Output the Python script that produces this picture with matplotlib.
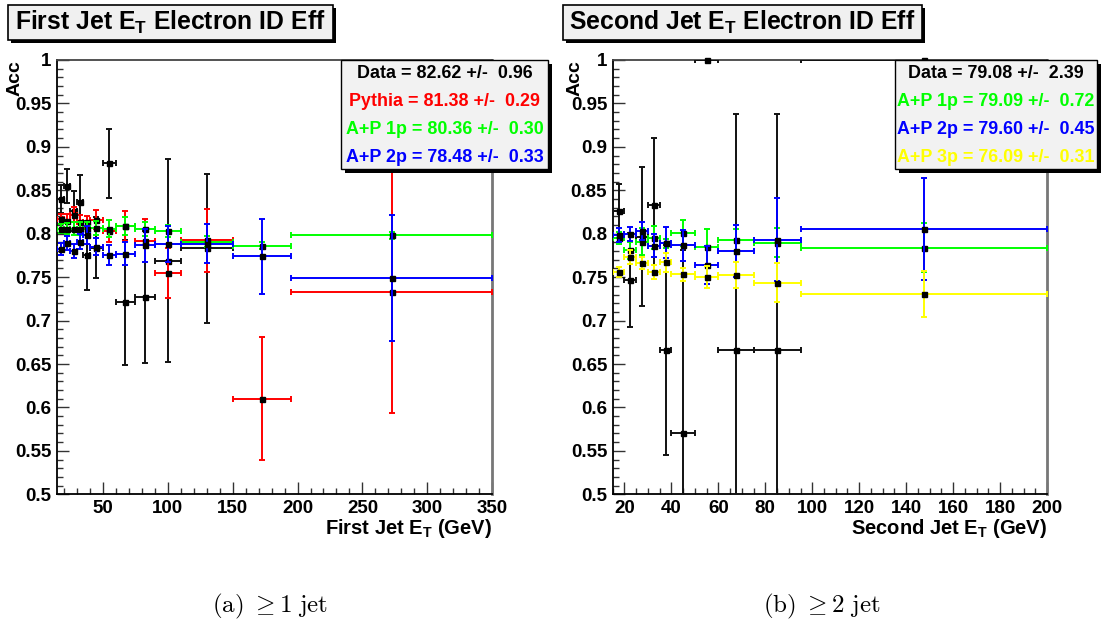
import matplotlib
matplotlib.use('Agg')
import matplotlib.pyplot as plt
from matplotlib.patches import Rectangle
from matplotlib.ticker import MultipleLocator, FuncFormatter
import numpy as np

plt.rcParams['font.family'] = ['Liberation Sans', 'DejaVu Sans']
plt.rcParams['font.weight'] = 'bold'
plt.rcParams['mathtext.fontset'] = 'custom'
plt.rcParams['mathtext.rm'] = 'Liberation Sans:bold'
plt.rcParams['mathtext.it'] = 'Liberation Sans:bold'
plt.rcParams['mathtext.bf'] = 'Liberation Sans:bold'

nan = np.nan

# ---------------- Left panel: First Jet ET ----------------
edges1 = [15, 20, 25, 30, 35, 40, 50, 60, 75, 90, 110, 150, 195, 350]
data1 = [0.840, 0.855, 0.826, 0.837, 0.775, 0.784, 0.881, 0.721, 0.727, 0.769, 0.783, nan, nan]
data1_err = [0.016, 0.020, 0.023, 0.031, 0.040, 0.035, 0.040, 0.072, 0.076, 0.117, 0.086, nan, nan]
pythia1 = [0.817, 0.815, 0.822, 0.814, 0.814, 0.816, 0.8035, 0.809, 0.792, 0.755, 0.7925, 0.610, 0.733]
pythia1_err = [0.006, 0.008, 0.009, 0.007, 0.006, 0.011, 0.0125, 0.017, 0.025, 0.029, 0.036, 0.071, 0.139]
ap1p1 = [0.806, 0.806, 0.806, 0.806, 0.806, 0.807, 0.806, 0.809, 0.805, 0.803, 0.791, 0.786, 0.798]
ap1p1_err = [0.005, 0.006, 0.007, 0.008, 0.008, 0.008, 0.010, 0.010, 0.008, 0.007, 0.006, 0.004, 0.004]
ap2p1 = [0.782, 0.789, 0.780, 0.791, 0.7985, 0.785, 0.775, 0.777, 0.787, 0.788, 0.7885, 0.774, 0.749]
ap2p1_err = [0.007, 0.008, 0.008, 0.009, 0.010, 0.010, 0.0115, 0.013, 0.019, 0.021, 0.0225, 0.043, 0.072]
legend1 = [("Data = 82.62 +/-  0.96", "black"),
           ("Pythia = 81.38 +/-  0.29", "#ff0000"),
           ("A+P 1p = 80.36 +/-  0.30", "#00ff00"),
           ("A+P 2p = 78.48 +/-  0.33", "#0000ff")]

# ---------------- Right panel: Second Jet ET ----------------
edges2 = [15, 20, 25, 30, 35, 40, 50, 60, 75, 95, 200]
data2 = [0.8265, 0.747, 0.7966, 0.8334, 0.666, 0.571, 1.0, 0.666, 0.666, 1.0]
data2_err = [0.031, 0.054, 0.080, 0.077, 0.121, 0.21, 0.0, 0.272, 0.272, 0.0]
ap1p2 = [0.7947, 0.781, 0.791, 0.7954, 0.789, 0.8008, 0.7847, 0.7924, 0.7897, 0.784]
ap1p2_err = [0.007, 0.010, 0.016, 0.013, 0.005, 0.015, 0.021, 0.0125, 0.017, 0.028]
ap2p2 = [0.7985, 0.7997, 0.803, 0.7862, 0.7897, 0.7867, 0.764, 0.7805, 0.7931, 0.8054]
ap2p2_err = [0.008, 0.008, 0.010, 0.013, 0.018, 0.018, 0.022, 0.030, 0.048, 0.059]
ap3p2 = [0.7556, 0.7736, 0.766, 0.7563, 0.767, 0.7536, 0.7502, 0.753, 0.7436, 0.731]
ap3p2_err = [0.006, 0.008, 0.007, 0.008, 0.011, 0.0075, 0.0125, 0.015, 0.0227, 0.0265]
legend2 = [("Data = 79.08 +/-  2.39", "black"),
           ("A+P 1p = 79.09 +/-  0.72", "#00ff00"),
           ("A+P 2p = 79.60 +/-  0.45", "#0000ff"),
           ("A+P 3p = 76.09 +/-  0.31", "#ffff00")]

W, H = 1102, 625
fig = plt.figure(figsize=(W / 100, H / 100), dpi=100)
fig.patch.set_facecolor('white')


def fx(x):
    return x / W


def fy(y):
    return 1 - y / H


def draw_series(ax, edges, vals, errs, color, z):
    e = np.array(edges, dtype=float)
    c = (e[:-1] + e[1:]) / 2
    hw = (e[1:] - e[:-1]) / 2
    v = np.array(vals, dtype=float)
    er = np.array(errs, dtype=float)
    m = ~np.isnan(v)
    ax.errorbar(c[m], v[m], xerr=hw[m], yerr=er[m], fmt='none', ecolor=color,
                elinewidth=1.4, capsize=2.2, capthick=1.4, zorder=z)
    ax.plot(c[m], v[m], 's', color='black', ms=3.6, zorder=z + 0.5, clip_on=False)


def setup_axes(ax, xlim, xmajor, xminor):
    ax.set_xlim(*xlim)
    ax.set_ylim(0.5, 1.0)
    ax.xaxis.set_major_locator(MultipleLocator(xmajor))
    ax.xaxis.set_minor_locator(MultipleLocator(xminor))
    ax.yaxis.set_major_locator(MultipleLocator(0.05))
    ax.yaxis.set_minor_locator(MultipleLocator(0.01))
    ax.yaxis.set_major_formatter(FuncFormatter(lambda v, p: '%g' % round(v, 3)))
    ax.xaxis.set_major_formatter(FuncFormatter(lambda v, p: '%g' % v))
    ax.tick_params(which='both', direction='in', top=False, right=False,
                   labelsize=13.5, pad=4, color='#333333')
    ax.tick_params(which='major', length=8.5, width=1.0)
    ax.tick_params(which='minor', length=4.5, width=1.0)
    for lab in ax.get_xticklabels() + ax.get_yticklabels():
        lab.set_fontweight('bold')
    for s in ['left', 'bottom']:
        ax.spines[s].set_linewidth(1.3)
        ax.spines[s].set_color('black')
    ax.spines['top'].set_linewidth(1.3)
    ax.spines['top'].set_color('#444444')
    ax.spines['right'].set_linewidth(2.0)
    ax.spines['right'].set_color('#777777')


def title_box(x0, x1, text):
    y0, y1 = 5, 40
    sh = Rectangle((fx(x0 + 3), fy(y1 + 3)), fx(x1 - x0), (y1 - y0) / H,
                   transform=fig.transFigure, facecolor='black', edgecolor='none', zorder=20)
    bx = Rectangle((fx(x0), fy(y1)), fx(x1 - x0), (y1 - y0) / H,
                   transform=fig.transFigure, facecolor='#f0f0f0', edgecolor='black',
                   linewidth=1.2, zorder=21)
    fig.add_artist(sh)
    fig.add_artist(bx)
    fig.text(fx((x0 + x1) / 2), fy(22), text, ha='center', va='center',
             fontsize=17.8, fontweight='bold', zorder=22)


def legend_box(x0, x1, entries):
    y0, y1 = 60, 169
    sh = Rectangle((fx(x0 + 4), fy(y1 + 4)), fx(x1 - x0), (y1 - y0) / H,
                   transform=fig.transFigure, facecolor='black', edgecolor='none', zorder=20)
    bx = Rectangle((fx(x0), fy(y1)), fx(x1 - x0), (y1 - y0) / H,
                   transform=fig.transFigure, facecolor='#f2f2f2', edgecolor='black',
                   linewidth=1.0, zorder=21)
    fig.add_artist(sh)
    fig.add_artist(bx)
    ys = [74, 102, 130, 157]
    for (t, c), y in zip(entries, ys):
        fig.text(fx((x0 + x1) / 2), fy(y), t, ha='center', va='center',
                 fontsize=12.9, fontweight='bold', color=c, zorder=22)


# Left axes
ax1 = fig.add_axes([fx(57.3), fy(494.3), fx(492.3 - 57.3), (494.3 - 60) / H])
draw_series(ax1, edges1, data1, data1_err, '#111111', 3)
draw_series(ax1, edges1, pythia1, pythia1_err, '#ff0000', 4)
draw_series(ax1, edges1, ap1p1, ap1p1_err, '#00ff00', 5)
draw_series(ax1, edges1, ap2p1, ap2p1_err, '#0000ff', 6)
setup_axes(ax1, (15, 350), 50, 10)

# Right axes
ax2 = fig.add_axes([fx(612.7), fy(494.3), fx(1047 - 612.7), (494.3 - 60) / H])
draw_series(ax2, edges2, data2, data2_err, '#111111', 3)
draw_series(ax2, edges2, ap1p2, ap1p2_err, '#00ff00', 4)
draw_series(ax2, edges2, ap2p2, ap2p2_err, '#0000ff', 5)
draw_series(ax2, edges2, ap3p2, ap3p2_err, '#ffff00', 6)
setup_axes(ax2, (15, 200), 20, 5)

# Titles
title_box(8, 333, r"First Jet E$_\mathrm{T}$ Electron ID Eff")
title_box(563, 922, r"Second Jet E$_\mathrm{T}$ Electron ID Eff")

# Stat boxes
legend_box(341, 548, legend1)
legend_box(895, 1097, legend2)

# Axis titles
fig.text(fx(492.3), fy(528), r"First Jet E$_\mathrm{T}$ (GeV)", ha='right', va='center',
         fontsize=14.5, fontweight='bold')
fig.text(fx(1047), fy(528), r"Second Jet E$_\mathrm{T}$ (GeV)", ha='right', va='center',
         fontsize=14.5, fontweight='bold')
fig.text(fx(15), fy(60), "Acc", rotation=90, ha='center', va='top',
         fontsize=14, fontweight='bold')
fig.text(fx(575), fy(60), "Acc", rotation=90, ha='center', va='top',
         fontsize=14, fontweight='bold')

# Captions
fig.text(fx(270), fy(606), r"$\mathrm{(a)}\ \geq 1\ \mathrm{jet}$", ha='center', va='center',
         fontsize=18, math_fontfamily='cm', fontweight='normal')
fig.text(fx(822), fy(606), r"$\mathrm{(b)}\ \geq 2\ \mathrm{jet}$", ha='center', va='center',
         fontsize=18, math_fontfamily='cm', fontweight='normal')

fig.savefig('out.png', dpi=100, facecolor='white')
